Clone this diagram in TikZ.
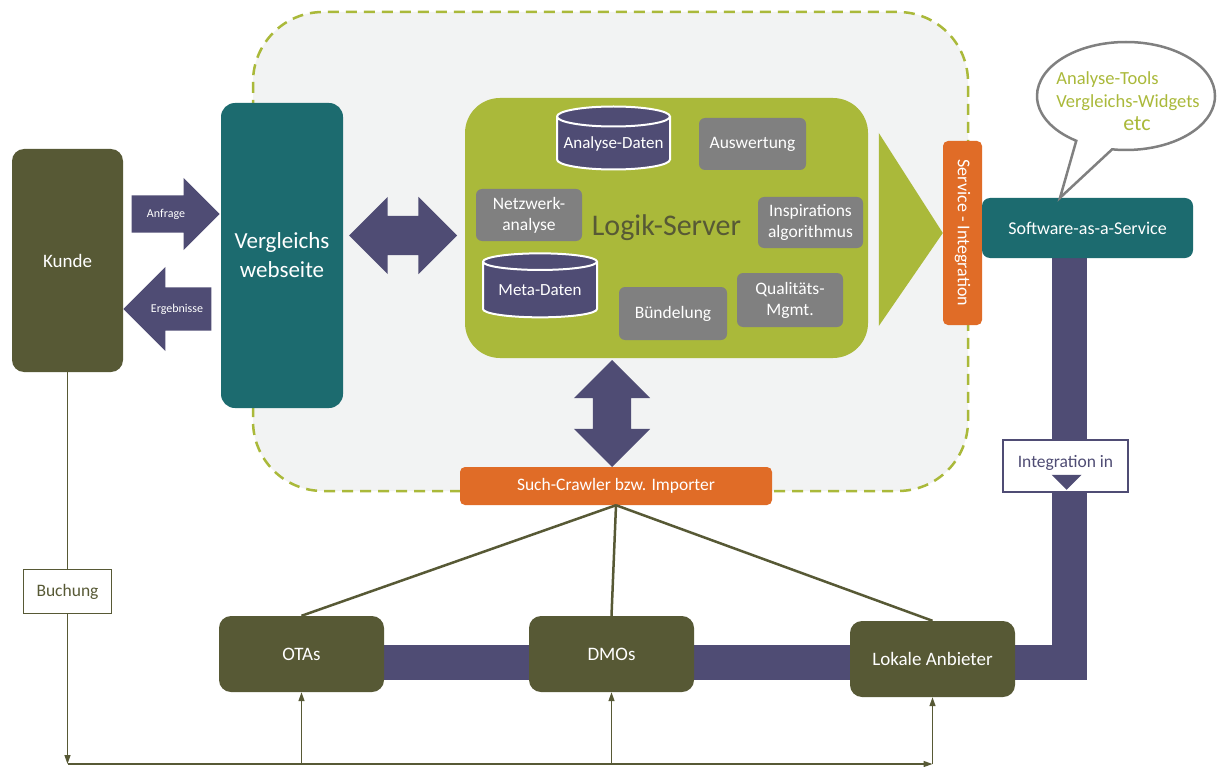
\documentclass[tikz,border=0pt]{standalone}
\usepackage{fontspec}
\setmainfont{Carlito}
\usetikzlibrary{shapes, shapes.arrows, shapes.geometric, shapes.callouts, arrows.meta, positioning, backgrounds}
\definecolor{oliv}{RGB}{87,89,53}
\definecolor{petrol}{RGB}{28,107,111}
\definecolor{gruen}{RGB}{170,185,58}
\definecolor{lila}{RGB}{79,76,116}
\definecolor{orangeton}{RGB}{224,108,39}
\definecolor{grau}{RGB}{128,128,128}
\definecolor{hellgrau}{RGB}{242,243,243}
\tikzstyle{akteur} = [fill=oliv, text=white, rounded corners=12pt, minimum width=165pt, minimum height=76pt, font=\fontsize{19}{22}\selectfont]
\tikzstyle{petrolbox} = [fill=petrol, text=white, rounded corners=12pt, align=center]
\tikzstyle{modul} = [fill=grau, text=white, rounded corners=6pt, align=center, inner sep=0pt, font=\fontsize{17.5}{21}\selectfont]
\tikzstyle{datenbank} = [cylinder, shape border rotate=90, aspect=0.2, fill=lila, draw=white, line width=2pt, text=white, inner sep=0pt, font=\fontsize{17}{20}\selectfont]
\tikzstyle{orangebox} = [fill=orangeton, text=white, rounded corners=5pt, inner sep=0pt, font=\fontsize{17.5}{20}\selectfont]
\tikzstyle{blockpfeil} = [fill=lila, inner xsep=0pt]
\tikzstyle{klein} = [text=white, font=\fontsize{12}{14}\selectfont]
\tikzstyle{verbinder} = [draw=oliv, line width=2.5pt]
\tikzstyle{duenn} = [draw=oliv, line width=1.3pt, -{Triangle[length=9pt,width=6pt]}]
\tikzstyle{band} = [draw=lila, line width=35pt]
\tikzstyle{etikett} = [draw=oliv, fill=white, line width=1.3pt, text=oliv, minimum width=88pt, minimum height=44pt, font=\fontsize{17.5}{20}\selectfont]
\tikzstyle{wolke} = [draw=gruen, fill=hellgrau, line width=2.5pt, dash pattern=on 11pt off 7pt, rounded corners=70pt]

\begin{document}
\begin{tikzpicture}[x=1pt, y=-1pt]
	\path[use as bounding box] (0,0) rectangle (1222,767);
	% Plattform
	\draw[wolke] (253,12) rectangle (968,491);

	\node[akteur, minimum width=111pt, minimum height=223pt] (kunde) at (67.5,260.5) {Kunde};
	\node[petrolbox, minimum width=122pt, minimum height=305pt, rounded corners=14pt, font=\fontsize{23}{29}\selectfont] (vergleich) at (282,255.5) {Vergleichs\\webseite};

	\node[blockpfeil, single arrow, single arrow head extend=17.5pt, inner ysep=18.5pt, minimum height=88pt, anchor=tip] (anfragepfeil) at (220,214) {};
	\node[klein] (anfrage) at (166,214) {Anfrage};
	\node[blockpfeil, single arrow, single arrow head extend=20.5pt, inner ysep=21.5pt, minimum height=88pt, anchor=tip, rotate=180] (ergebnispfeil) at (123,309) {};
	\node[klein] (ergebnisse) at (177,309) {Ergebnisse};

	% Logik-Server
	\node[fill=gruen, rounded corners=35pt, minimum width=403pt, minimum height=260pt, text=oliv, font=\fontsize{30}{32}\selectfont] (logik) at (666.5,228) {Logik-Server};
	\node[datenbank, minimum width=113pt, minimum height=63pt] (analysedaten) at (613.5,143.5) {Analyse-Daten};
	\node[modul, minimum width=107pt, minimum height=52pt] (auswertung) at (752.5,144) {Auswertung};
	\node[modul, minimum width=106pt, minimum height=52pt] (netzwerk) at (529,215) {Netzwerk-\\analyse};
	\node[modul, minimum width=105pt, minimum height=51pt] (inspiration) at (810.5,222.5) {Inspirations\\algorithmus};
	\node[datenbank, minimum width=114pt, minimum height=64pt] (metadaten) at (540,290) {Meta-Daten};
	\node[modul, minimum width=108pt, minimum height=53pt] (buendelung) at (673,313.5) {Bündelung};
	\node[modul, minimum width=106pt, minimum height=54pt] (qualitaet) at (790,300) {Qualitäts-\\Mgmt.};

	\node[blockpfeil, double arrow, double arrow head extend=19pt, inner ysep=19.5pt, minimum height=108pt] (pfeilh) at (403,235.5) {};
	\node[blockpfeil, double arrow, double arrow head extend=19pt, inner ysep=19pt, minimum height=107pt, rotate=90] (pfeilv) at (612,413.5) {};

	\node[orangebox, rotate=-90, minimum width=184pt, minimum height=39pt, font=\fontsize{18}{20}\selectfont] (service) at (962.5,233) {Service - Integration};
	\fill[gruen] (service.south) -- ++(-64,-100) -- ++(0,193) -- cycle;
	\node[orangebox, minimum width=312pt, minimum height=38pt] (crawler) at (616,486) {Such-Crawler bzw. Importer};

	% SaaS
	\node[petrolbox, minimum width=211pt, minimum height=60pt, rounded corners=8pt, font=\fontsize{18}{20}\selectfont] (saas) at (1087.5,228) {Software-as-a-Service};
	\node[ellipse callout, draw=grau, fill=white, line width=2.5pt, minimum width=178pt, minimum height=108pt, callout absolute pointer={([xshift=-27.5pt]saas.north)}, callout pointer arc=25] (blase) at (1126,96) {};
	\node[text=gruen, align=left, inner sep=0pt, font=\fontsize{18.5}{23}\selectfont] (blasetext) at (1128,101) {Analyse-Tools\\Vergleichs-Widgets\\\hspace*{67pt}{\fontsize{22}{24}\selectfont etc}};

	% Anbieter
	\node[akteur] (otas) at (301.5,654) {OTAs};
	\node[akteur] (dmos) at (611.5,654) {DMOs};
	\node[akteur] (lokale) at (932.5,659) {Lokale Anbieter};
	\begin{scope}[on background layer]
		\fill[white] (0,0) rectangle (1222,767);
		\draw[band] ([xshift=-18pt]saas.south) |- ([yshift=-8.5pt]otas.east);
	\end{scope}
	\node[draw=lila, fill=white, line width=1.5pt, text=lila, minimum width=125pt, text height=16pt, text depth=14pt, inner ysep=11pt, font=\fontsize{17.5}{20}\selectfont] (integration) at (1065.5,466) {Integration in};
	\fill[lila] (integration.south) ++(-14,-18) -- ++(30,0) -- ++(-15,15) -- cycle;

	\foreach \z in {otas,dmos,lokale}
		\draw[verbinder] (crawler.south) -- (\z.north);

	% Buchungsweg
	\coordinate (basis) at (0,764);
	\draw[duenn] (kunde.south) -- node[etikett, pos=0.56] (buchung) {Buchung} (kunde.south |- basis);
	\draw[duenn] (kunde.south |- basis) -- (lokale.south |- basis);
	\foreach \z in {otas,dmos,lokale}
		\draw[duenn] (\z.south |- basis) -- (\z.south);
\end{tikzpicture}
\end{document}
